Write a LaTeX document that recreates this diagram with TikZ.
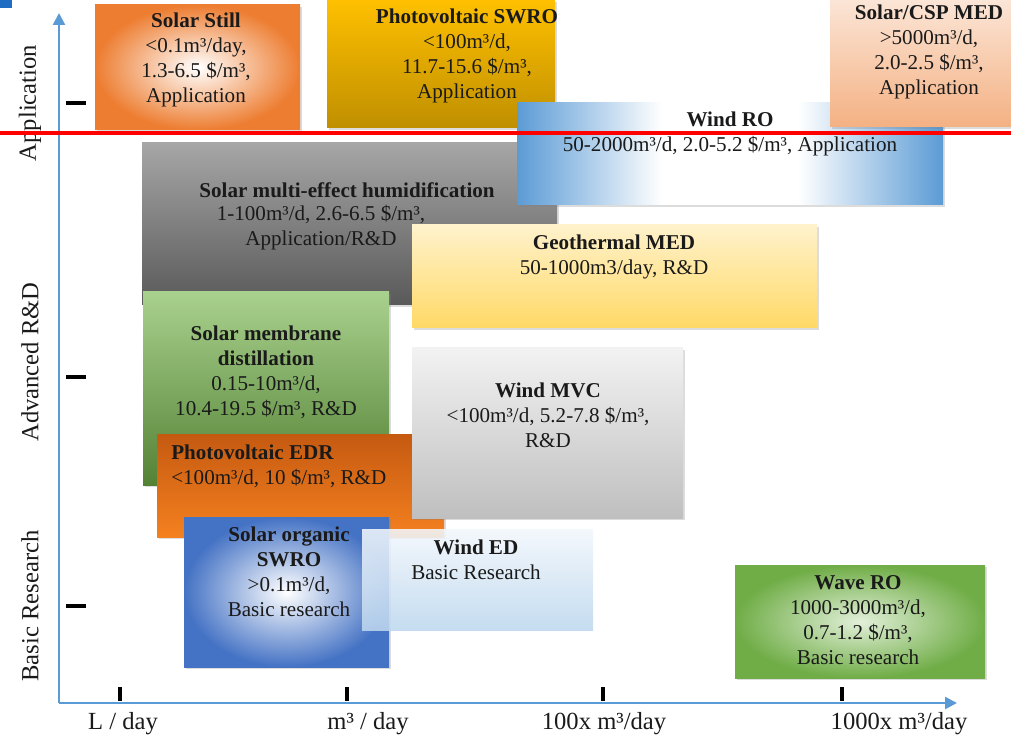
\documentclass[tikz,border=0pt]{standalone}
\usepackage{fontspec}
\setmainfont{Liberation Serif}
\usepackage{tikz}
\usetikzlibrary{arrows.meta, shadows}
\definecolor{axisblue}{HTML}{5B9BD5}
\definecolor{textdark}{HTML}{1A1A1A}
\definecolor{cornerblue}{HTML}{1F6DC2}
\definecolor{stillorange}{HTML}{ED7D31}
\definecolor{swrogold}{HTML}{FFC000}
\definecolor{swrobrown}{HTML}{BF8F00}
\definecolor{csptop}{HTML}{FBE5D6}
\definecolor{cspbottom}{HTML}{F4B183}
\definecolor{humtop}{HTML}{A6A6A6}
\definecolor{humbottom}{HTML}{595959}
\definecolor{geotop}{HTML}{FFF2CC}
\definecolor{geobottom}{HTML}{FFD966}
\definecolor{mdtop}{HTML}{A9D18E}
\definecolor{mdbottom}{HTML}{548235}
\definecolor{mvctop}{HTML}{F2F2F2}
\definecolor{mvcbottom}{HTML}{BFBFBF}
\definecolor{edrtop}{HTML}{C55A11}
\definecolor{edrbottom}{HTML}{F4801F}
\definecolor{orgblue}{HTML}{4472C4}
\definecolor{edtop}{HTML}{F2F7FC}
\definecolor{edbottom}{HTML}{BDD7EE}
\definecolor{wavegreen}{HTML}{70AD47}
\definecolor{wavein}{HTML}{E2F0D9}
\definecolor{windblue}{HTML}{5B9BD5}
\pgfdeclarehorizontalshading{windro}{100bp}{color(0bp)=(windblue); color(25bp)=(windblue); color(42bp)=(white); color(58bp)=(white); color(75bp)=(windblue); color(100bp)=(windblue)}

\begin{document}
\begin{tikzpicture}[
    x=0.025cm, y=-0.025cm,
    panel/.style={drop shadow={shadow xshift=1.4pt, shadow yshift=-1.4pt, opacity=0.28}},
    txt/.style={align=center, text=textdark, inner sep=0pt, font=\fontsize{15}{17.8}\selectfont},
    axislabel/.style={text=textdark, inner sep=0pt, font=\fontsize{17.5}{20}\selectfont},
    axis/.style={axisblue, line width=1.8pt, -{Triangle[width=8.5pt, length=8.5pt]}},
    tickmark/.style={black, line width=2.6pt},
  ]
    \useasboundingbox (0,0) rectangle (1011,740);

    % application row
    \shade[panel, inner color=white, outer color=stillorange] (95,5) rectangle (300,130);
    \node[txt] (still) at (196,60) {\textbf{Solar Still}\\<0.1m³/day,\\1.3-6.5 \$/m³,\\Application};

    \shade[panel, top color=swrogold, bottom color=swrobrown] (327,0) rectangle (555,128);
    \node[txt] (pvswro) at (467,56) {\textbf{Photovoltaic SWRO}\\<100m³/d,\\11.7-15.6 \$/m³,\\Application};

    \shade[panel, top color=humtop, bottom color=humbottom] (142,143) rectangle (557,305);
    \node[txt] (humttl) at (347,190) {\textbf{Solar multi-effect humidification}};
    \node[txt] (humbody) at (321,228) {1-100m³/d, 2.6-6.5 \$/m³,\\Application/R\&D};

    \shade[panel, shading=windro] (517,103) rectangle (943,205);
    \node[txt] (windro) at (730,134) {\textbf{Wind RO}\\50-2000m³/d, 2.0-5.2 \$/m³, Application};

    \shade[panel, top color=csptop, bottom color=cspbottom] (830,0) rectangle (1011,127);
    \node[txt] (cspmed) at (929,52) {\textbf{Solar/CSP MED}\\>5000m³/d,\\2.0-2.5 \$/m³,\\Application};

    % advanced R&D row
    \shade[panel, top color=geotop, bottom color=geobottom] (412,225) rectangle (817,328);
    \node[txt] (geomed) at (614,257) {\textbf{Geothermal MED}\\50-1000m3/day, R\&D};

    \shade[panel, top color=mdtop, bottom color=mdbottom] (143,292) rectangle (389,485);
    \node[txt] (smd) at (266,372) {\textbf{Solar membrane}\\\textbf{distillation}\\0.15-10m³/d,\\10.4-19.5 \$/m³, R\&D};

    \shade[panel, top color=edrtop, bottom color=edrbottom] (157,435) rectangle (444,537);
    \node[txt, align=left, anchor=west] (pvedr) at (171,466) {\textbf{Photovoltaic EDR}\\<100m³/d, 10 \$/m³, R\&D};

    \shade[panel, top color=mvctop, bottom color=mvcbottom] (412,348) rectangle (683,518);
    \node[txt] (windmvc) at (548,415) {\textbf{Wind MVC}\\<100m³/d, 5.2-7.8 \$/m³,\\R\&D};

    % basic research row
    \shade[panel, inner color=white, outer color=orgblue] (184,517) rectangle (389,667);
    \node[txt] (orgswro) at (289,572) {\textbf{Solar organic}\\\textbf{SWRO}\\>0.1m³/d,\\Basic research};

    \shade[top color=edtop, bottom color=edbottom, fill opacity=0.88] (362,529) rectangle (593,630);
    \node[txt] (winded) at (476,560) {\textbf{Wind ED}\\Basic Research};

    \shade[panel, inner color=wavein, outer color=wavegreen] (735,565) rectangle (985,678);
    \node[txt] (wavero) at (858,620) {\textbf{Wave RO}\\1000-3000m³/d,\\0.7-1.2 \$/m³,\\Basic research};

    % axes
    \coordinate (origin) at (59,703);
    \coordinate (ytop) at (59,13);
    \coordinate (xend) at (957,703);
    \draw[axis] (origin) -- (ytop);
    \draw[axis] (origin) -- (xend);

    \foreach \ty in {103,377,606}
      \draw[tickmark] (66,\ty) -- (86,\ty);
    \foreach \tx in {120,347,603,842}
      \draw[tickmark] (\tx,687) -- (\tx,701);

    \node[axislabel, rotate=90] (lapp) at (30,103) {Application};
    \node[axislabel, rotate=90] (lrnd) at (30,362) {Advanced R\&D};
    \node[axislabel, rotate=90] (lbasic) at (30,606) {Basic Research};

    \node[axislabel] (lday) at (123,724) {L / day};
    \node[axislabel] (mday) at (368,724) {m³ / day};
    \node[axislabel] (hday) at (604,724) {100x m³/day};
    \node[axislabel] (kday) at (899,724) {1000x m³/day};

    % marks over the picture
    \coordinate (redl) at (0,133);
    \coordinate (redr) at (1011,133);
    \draw[red, line width=2.2pt] (redl) -- (redr);
    \fill[cornerblue] (0,0) rectangle (12,8);
  \end{tikzpicture}
\end{document}
